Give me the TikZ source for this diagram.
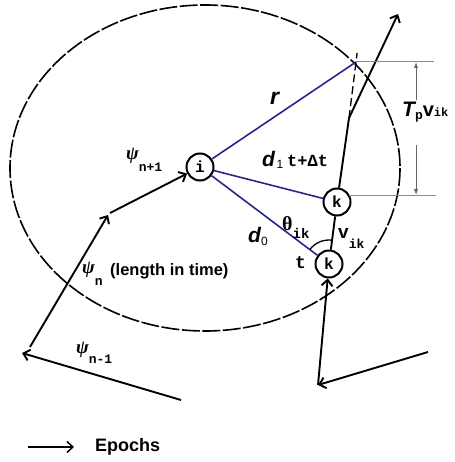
\documentclass[tikz,border=0pt]{standalone}
\usepackage{fontspec}
\setmainfont{Liberation Sans}
\setmonofont{Liberation Mono}
\newfontfamily\greekfont{Liberation Serif}
\usetikzlibrary{arrows.meta,calc}

\definecolor{linkblue}{RGB}{38,38,140}
\newcommand{\fs}[1]{\fontsize{#1}{#1}\selectfont}
\newcommand{\lowsub}[3]{\raisebox{-#1}{\ttfamily\bfseries\fs{#2}#3}}

\begin{document}
\begin{tikzpicture}[
x=1pt, y=-1pt,
>={Straight Barb[length=6pt,width=11pt]},
agent/.style={
circle,
draw,
line width=2pt,
minimum size=27pt,
inner sep=0pt,
font=\ttfamily\bfseries\fs{16}},
link/.style={draw=linkblue, line width=1.6pt},
move/.style={line width=1.9pt},
guide/.style={draw=black!45, line width=1pt},
dimline/.style={draw=black!60, line width=1pt, -{Latex[length=6pt,width=4.5pt]}},
lab/.style={inner sep=0pt, anchor=base west}
]

\useasboundingbox (0,0) rectangle (454,462);

% communication range
\draw[dash pattern=on 18pt off 2.5pt, line width=1.6pt] (205,168) ellipse[x radius=195, y radius=163];

\node[agent] (i) at (200,167) {i};
\node[agent] (k1) at (337,202) {k};
\node[agent] (k0) at (329,264) {k};

\coordinate (P) at (356,62);
\coordinate (bend) at (349,118);
\coordinate (tip) at (398,14);

\draw[link] (i) -- (P);
\draw[link] (i) -- (k1);
\draw[link] (i) -- (k0);

% path of k
\draw[move] (k0) -- (k1);
\draw[move,->] (k1) -- (bend) -- (tip);
\draw[dash pattern=on 8pt off 4pt, line width=1.3pt] (bend) -- ($(bend)!1.16!(P)$);

\coordinate (br) at (428,352);
\coordinate (bc) at (318,385);
\draw[move,->] (br) -- (bc);
\draw[move,->] (bc) -- (k0);

% epochs of i
\coordinate (l0) at (181,400);
\coordinate (l1) at (22,353);
\coordinate (l2) at (30,347);
\coordinate (l3) at (108,215);
\coordinate (l4) at (110,213);
\draw[move,->] (l0) -- (l1);
\draw[move,->] (l2) -- (l3);
\draw[move,->] (l4) -- (i);

% T_p v_ik
\coordinate (gt) at (434,62);
\coordinate (gb) at (436,195);
\coordinate (gs) at (349,195);
\coordinate (da) at (416,100);
\coordinate (db) at (416,145);
\draw[guide] (P) -- (gt);
\draw[guide] (gs) -- (gb);
\draw[dimline] (da) -- (da |- gt);
\draw[dimline] (db) -- (db |- gb);

\node[lab] (tplab) at (402,117) {{\bfseries\itshape\fs{21}T}\lowsub{3pt}{13}{p}{\bfseries\fs{20}v}{\ttfamily\bfseries\fs{12}ik}};

% labels
\node[lab] (psinext) at (126,160) {{\greekfont\bfseries\itshape\fs{19}ψ}\lowsub{12pt}{13}{n+1}};
\node[lab] (psicur) at (82,273) {{\greekfont\bfseries\itshape\fs{19}ψ}\lowsub{12pt}{13}{n}};
\node[lab, font=\bfseries\fs{16.5}] (lenlab) at (110,275) {(length in time)};
\node[lab] (psiprev) at (76,353) {{\greekfont\bfseries\itshape\fs{19}ψ}\lowsub{10pt}{13}{n-1}};

\node[lab, font=\bfseries\itshape\fs{23}] (rlab) at (270,105) {r};
\node[lab] (dlab1) at (262,167) {{\bfseries\itshape\fs{21}d}\,\raisebox{-2pt}{\fs{12}1}};
\node[lab, font=\ttfamily\bfseries\fs{17}] (tlab1) at (287,167) {t+Δt};
\node[lab] (dlab0) at (248,242) {{\bfseries\itshape\fs{21}d}\raisebox{-3pt}{\fs{12}0}};
\node[lab, font=\ttfamily\bfseries\fs{18}] (tlab0) at (295,268) {t};

\node[lab] (thlab) at (282,230) {{\greekfont\bfseries\fs{20}θ}\raisebox{-8pt}{\ttfamily\bfseries\fs{14}ik}};
\node[lab] (vlab) at (338,238) {{\bfseries\fs{19}v}\raisebox{-10pt}{\ttfamily\bfseries\fs{13}ik}};
\draw[line width=1.3pt] ([shift={(-143:24)}]k0.center) arc[start angle=-143, end angle=-82, radius=24];

% legend
\coordinate (ea) at (28,447);
\coordinate (eb) at (74,447);
\draw[line width=1.5pt,->] (ea) -- (eb);
\node[lab, font=\bfseries\fs{18}] (epochs) at (95,451) {Epochs};

\end{tikzpicture}
\end{document}
